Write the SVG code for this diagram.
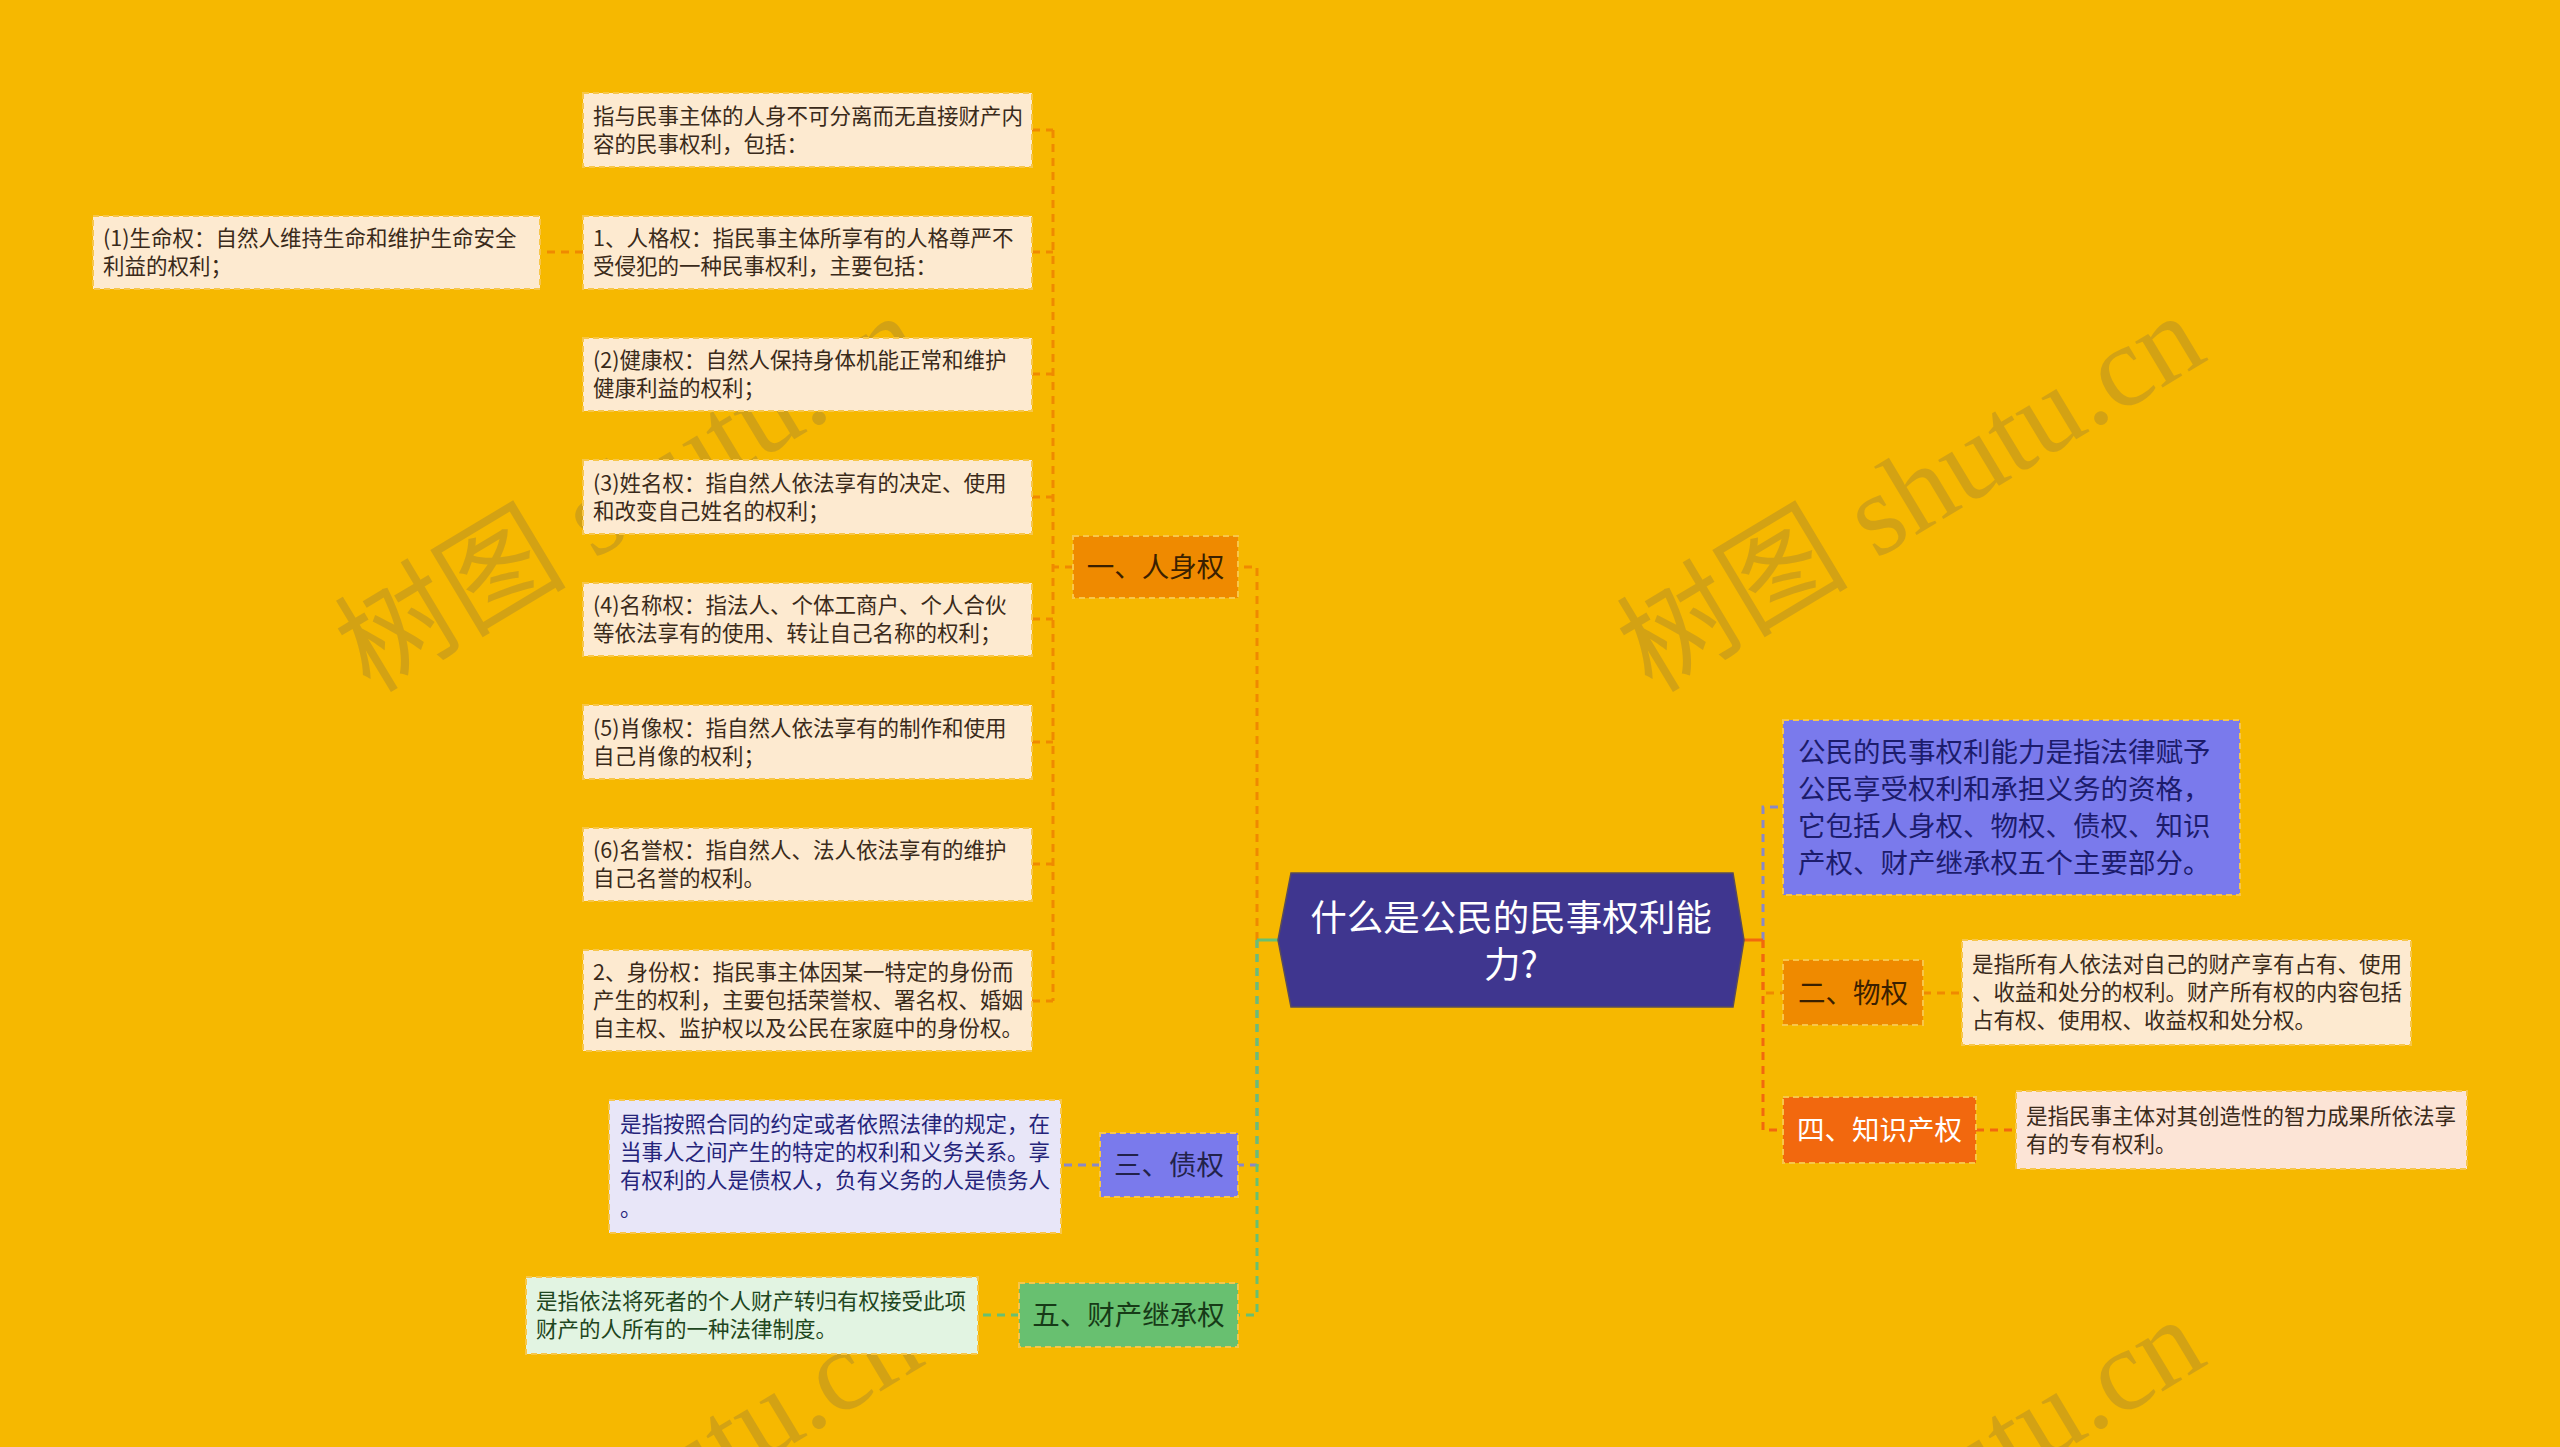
<svg xmlns="http://www.w3.org/2000/svg" width="2560" height="1447" viewBox="0 0 2560 1447">
<style>
text{font-family:"Noto Sans CJK SC","Noto Sans",sans-serif}
.wm{font-family:"Liberation Serif","Noto Sans CJK SC",serif;font-size:116px;fill:#857143;opacity:.3}
.box{stroke:#f7c64a;stroke-width:2;stroke-dasharray:6 4}
.cream{fill:#fdead0}
.t21{font-size:21.5px;fill:#3a2a1a}
.t27{font-size:27.5px}
.ln{fill:none;stroke-width:3;stroke-dasharray:8 6}
.or{stroke:#ef8a00}.bl{stroke:#8a88c8}.gr{stroke:#68c070}.rd{stroke:#f2680e}
</style>
<rect width="2560" height="1447" fill="#f6b800"/>

<g id="watermarks">
<text class="wm" transform="translate(370,694) rotate(-31)">树图 shutu.cn</text>
<text class="wm" transform="translate(1652,694) rotate(-31)">树图 shutu.cn</text>
<text class="wm" transform="translate(370,1698) rotate(-31)">树图 shutu.cn</text>
<text class="wm" transform="translate(1652,1698) rotate(-31)">树图 shutu.cn</text>
</g>

<g id="connectors">
<path class="ln bl" d="M1257 940 V1165 H1238"/>
<path class="ln or" d="M1257 940 V567 H1238"/>
<path class="ln gr" d="M1257 940 V1315 H1238"/>
<path d="M1278 940 H1257" stroke="#68c070" stroke-width="3" fill="none"/>
<path class="ln bl" d="M1763 940 V807 H1783"/>
<path class="ln or" d="M1763 940 V993 H1783"/>
<path class="ln rd" d="M1763 940 V1130 H1783"/>
<path d="M1744 940 H1763" stroke="#f2680e" stroke-width="3" fill="none"/>
<path class="ln or" d="M1073 567 H1053"/>
<path class="ln or" d="M1053 130 V1001"/>
<path class="ln or" d="M1032 130 H1053 M1032 252 H1053 M1032 374 H1053 M1032 497 H1053 M1032 619 H1053 M1032 742 H1053 M1032 864 H1053 M1032 1001 H1053"/>
<path class="ln or" d="M583 252 H540"/>
<path class="ln or" d="M1923 993 H1962"/>
<path class="ln rd" d="M1976 1130 H2016"/>
<path class="ln bl" d="M1100 1165 H1061"/>
<path class="ln gr" d="M1019 1315 H978"/>
</g>

<g id="root">
<polygon points="1291,873 1733,873 1744,940 1733,1007 1291,1007 1278,940" fill="#3f368f" stroke="#5a4c5a" stroke-width="1.5"/>
<text x="1511" y="931" text-anchor="middle" font-size="36.5" fill="#ffffff">什么是公民的民事权利能</text>
<text x="1511" y="978" text-anchor="middle" font-size="36.5" fill="#ffffff">力?</text>
</g>

<g id="n-renshen">
<rect class="box" x="1073" y="536" width="165" height="62" fill="#ef8a00"/>
<text class="t27" x="1155.5" y="577" text-anchor="middle" fill="#3a2000">一、人身权</text>
</g>

<g id="n-l1">
<rect class="box cream" x="583" y="93" width="449" height="74"/>
<text class="t21" x="593" y="123.7">指与民事主体的人身不可分离而无直接财产内<tspan x="593" dy="28">容的民事权利，包括：</tspan></text>
</g>
<g id="n-l2">
<rect class="box cream" x="583" y="216" width="449" height="73"/>
<text class="t21" x="593" y="246">1、人格权：指民事主体所享有的人格尊严不<tspan x="593" dy="28">受侵犯的一种民事权利，主要包括：</tspan></text>
</g>
<g id="n-life">
<rect class="box cream" x="93" y="216" width="447" height="73"/>
<text class="t21" x="103" y="246">(1)生命权：自然人维持生命和维护生命安全<tspan x="103" dy="28">利益的权利；</tspan></text>
</g>
<g id="n-l3">
<rect class="box cream" x="583" y="338" width="449" height="73"/>
<text class="t21" x="593" y="368">(2)健康权：自然人保持身体机能正常和维护<tspan x="593" dy="28">健康利益的权利；</tspan></text>
</g>
<g id="n-l4">
<rect class="box cream" x="583" y="460" width="449" height="74"/>
<text class="t21" x="593" y="490.7">(3)姓名权：指自然人依法享有的决定、使用<tspan x="593" dy="28">和改变自己姓名的权利；</tspan></text>
</g>
<g id="n-l5">
<rect class="box cream" x="583" y="583" width="449" height="73"/>
<text class="t21" x="593" y="613">(4)名称权：指法人、个体工商户、个人合伙<tspan x="593" dy="28">等依法享有的使用、转让自己名称的权利；</tspan></text>
</g>
<g id="n-l6">
<rect class="box cream" x="583" y="705" width="449" height="74"/>
<text class="t21" x="593" y="735.7">(5)肖像权：指自然人依法享有的制作和使用<tspan x="593" dy="28">自己肖像的权利；</tspan></text>
</g>
<g id="n-l7">
<rect class="box cream" x="583" y="828" width="449" height="73"/>
<text class="t21" x="593" y="858">(6)名誉权：指自然人、法人依法享有的维护<tspan x="593" dy="28">自己名誉的权利。</tspan></text>
</g>
<g id="n-l8">
<rect class="box cream" x="583" y="950" width="449" height="101"/>
<text class="t21" x="593" y="980">2、身份权：指民事主体因某一特定的身份而<tspan x="593" dy="28">产生的权利，主要包括荣誉权、署名权、婚姻</tspan><tspan x="593" dy="28">自主权、监护权以及公民在家庭中的身份权。</tspan></text>
</g>

<g id="n-zhaiquan">
<rect class="box" x="1100" y="1133" width="138" height="64" fill="#7a7aec"/>
<text class="t27" x="1169" y="1175" text-anchor="middle" fill="#22224a">三、债权</text>
</g>
<g id="n-zhaiquan-d">
<rect class="box" x="609" y="1100" width="452" height="133" fill="#e8e6f8"/>
<text class="t21" x="620" y="1132" style="fill:#25247a">是指按照合同的约定或者依照法律的规定，在<tspan x="620" dy="28">当事人之间产生的特定的权利和义务关系。享</tspan><tspan x="620" dy="28">有权利的人是债权人，负有义务的人是债务人</tspan><tspan x="620" dy="28">。</tspan></text>
</g>

<g id="n-jicheng">
<rect class="box" x="1019" y="1283" width="219" height="64" fill="#68c070"/>
<text class="t27" x="1128.5" y="1325" text-anchor="middle" fill="#173a17">五、财产继承权</text>
</g>
<g id="n-jicheng-d">
<rect class="box" x="526" y="1277" width="452" height="77" fill="#e2f4e2"/>
<text class="t21" x="536" y="1309" style="fill:#1e4620">是指依法将死者的个人财产转归有权接受此项<tspan x="536" dy="28">财产的人所有的一种法律制度。</tspan></text>
</g>

<g id="n-def">
<rect class="box" x="1783" y="720" width="457" height="175" fill="#7a7aec"/>
<text class="t27" x="1798" y="762" fill="#1c1c6c">公民的民事权利能力是指法律赋予<tspan x="1798" dy="37">公民享受权利和承担义务的资格，</tspan><tspan x="1798" dy="37">它包括人身权、物权、债权、知识</tspan><tspan x="1798" dy="37">产权、财产继承权五个主要部分。</tspan></text>
</g>

<g id="n-wuquan">
<rect class="box" x="1783" y="960" width="140" height="65" fill="#ef8a00"/>
<text class="t27" x="1853" y="1002.5" text-anchor="middle" fill="#3a2000">二、物权</text>
</g>
<g id="n-wuquan-d">
<rect class="box cream" x="1962" y="940" width="449" height="105"/>
<text class="t21" x="1972" y="972">是指所有人依法对自己的财产享有占有、使用<tspan x="1972" dy="28">、收益和处分的权利。财产所有权的内容包括</tspan><tspan x="1972" dy="28">占有权、使用权、收益权和处分权。</tspan></text>
</g>

<g id="n-zhishi">
<rect class="box" x="1783" y="1097" width="193" height="66" fill="#f2680e"/>
<text class="t27" x="1879.5" y="1140" text-anchor="middle" fill="#ffffff">四、知识产权</text>
</g>
<g id="n-zhishi-d">
<rect class="box" x="2016" y="1091" width="451" height="78" fill="#fce4d6"/>
<text class="t21" x="2026" y="1124">是指民事主体对其创造性的智力成果所依法享<tspan x="2026" dy="28">有的专有权利。</tspan></text>
</g>
</svg>
